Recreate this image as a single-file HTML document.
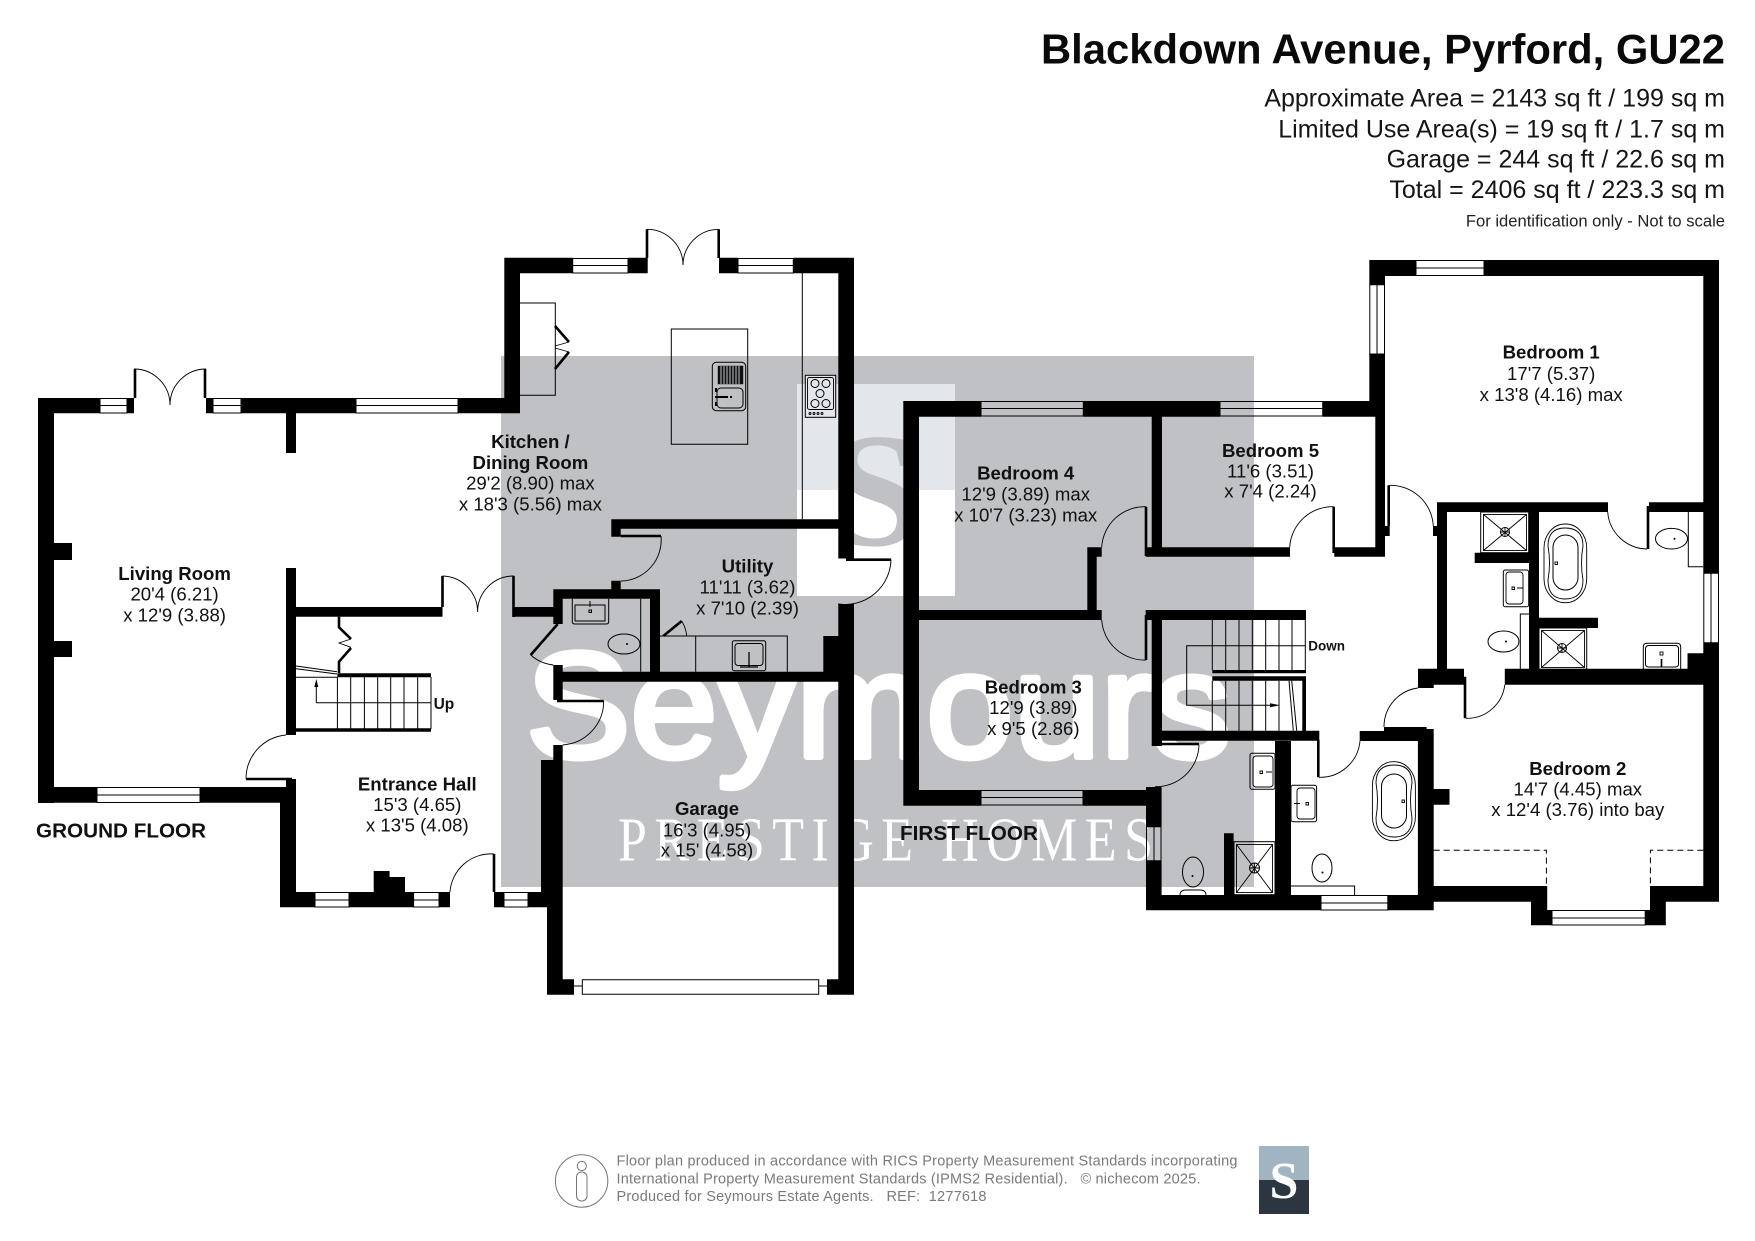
<!DOCTYPE html>
<html><head><meta charset="utf-8"><title>Blackdown Avenue, Pyrford floor plan</title>
<style>
html,body{margin:0;padding:0;background:#fff}
svg{display:block}
text{font-family:"Liberation Sans",sans-serif;fill:#111}
.t{font-size:18.6px;text-anchor:middle}
.b{font-weight:bold}
.s{font-size:25px;text-anchor:end;fill:#151515}
.f{font-size:14.5px;fill:#7a7a7a;white-space:pre}
.l{fill:none;stroke:#000;stroke-width:1}
.a{fill:none;stroke:#000;stroke-width:.9}
.k{fill:none;stroke:#000;stroke-width:2.6}
</style></head><body>
<svg xmlns="http://www.w3.org/2000/svg" width="1755" height="1241" viewBox="0 0 1755 1241">
<rect width="1755" height="1241" fill="#fff"/>
<!-- watermark -->
<rect x="501" y="356" width="753" height="531" fill="#bfc1c4"/>
<rect x="797" y="384" width="158" height="106" fill="#e3e7eb"/>
<rect x="797" y="490" width="158" height="106" fill="#fff"/>
<text x="876" y="545" text-anchor="middle" font-size="163" font-weight="bold" style="font-family:'Liberation Serif',serif;fill:#bfc1c4">S</text>
<text x="526" y="757" font-size="150" textLength="705" lengthAdjust="spacingAndGlyphs" style="fill:#fff;stroke:#fff;stroke-width:6;stroke-linejoin:round">Seymours</text>
<text transform="translate(618 860.7) scale(1 1.2)" x="0" y="0" font-size="52" textLength="535" style="font-family:'Liberation Serif',serif;fill:#fff">PRESTIGE HOMES</text>

<!-- walls -->
<path fill="#000" d="
M38 398H100V413.3H38zM127 398H134V413.3H127zM206 398H213V413.3H206zM241 398H356V413.3H241zM458 398H520V413.3H458z
M38 398H54V803H38zM38 787H97V802.7H38zM200 787H296V802.7H200z
M54 543H72V560H54zM54 641H72V657H54z
M286 413H296V453H286zM286 568H296V735H286zM286 779H296V803H286zM280 787H296V907.3H280z
M296 607H442.5V616.7H296zM514 607H553.3V616.7H514z
M280 892H315V907.3H280zM349 892H413.6V907.3H349zM439 892H450V907.3H439zM494 892H504V907.3H494zM528 892H547.5V907.3H528z
M373.7 871H389.6V892H373.7zM389.6 877H405V892H389.6z
M504.3 257.7H520V413.3H504.3zM504.3 257.7H572.7V273.3H504.3zM628 257.7H647.7V273.3H628zM719 257.7H738V273.3H719zM793.3 257.7H854V273.3H793.3z
M838.3 257.7H854V558.5H838.3zM838.3 604H854V994.7H838.3z
M611.3 519.3H838.3V528.7H611.3zM611.3 528.7H620.7V536.7H611.3zM611.3 580.7H620.7V589.3H611.3z
M553.3 589.3H660V598.7H553.3zM553.3 589.3H562.7V624H553.3zM650 598.7H660V671.7H650z
M553.3 671.7H838.3V681.7H553.3zM553.3 665H562.7V700H553.3zM553.3 745H562.7V760H553.3zM541 760H562.7V892H541zM547 892H562.7V994.7H547z
M823.3 636H838.3V672H823.3zM547 979.3H574V994.7H547zM827 979.3H854V994.7H827z
M296 728.3H431V731.7H296zM337.4 673.3H431V677.3H337.4z

M903.3 401H981V416.7H903.3zM1083.3 401H1220V416.7H1083.3zM1322.7 401H1385V416.7H1322.7z
M903.3 401H919V805H903.3zM919 610H1101.7V620H919z
M1087.3 547.3H1101.7V556.7H1087.3zM1087.3 547.3H1096.7V610H1087.3z
M1151.7 416.7H1162V556.7H1151.7zM1145.7 547.3H1290V556.7H1145.7zM1334.3 547.3H1385V556.7H1334.3zM1375.3 416H1385V556.7H1375.3z
M1369.3 260H1385V284.7H1369.3zM1369.3 354H1385V416H1369.3zM1369.3 260H1416V276H1369.3zM1484 260H1719V276H1484z
M1703.3 260H1719V573.3H1703.3zM1703.3 642.7H1719V901.7H1703.3z
M1145.7 610H1306V620H1145.7zM1151.7 610H1162V746H1151.7z
M1302.3 680H1306V731H1302.3zM1212.3 670H1306V673.3H1212.3zM1212.3 676.3H1306V680.7H1212.3z
M1162 730.7H1319.3V740.7H1162zM1359.7 731H1418V741H1359.7zM1384 727H1426.6V731H1384z
M1417.9 729H1433.7V910.3H1417.9zM1275 741H1291V895H1275z
M1146 787H1161.6V826.7H1146zM1146 860.7H1161.6V910.3H1146z
M903.3 790H981V805.7H903.3zM1083 790H1161.6V805.7H1083z
M1146 895H1321V910.3H1146zM1387.8 895H1433.7V910.3H1387.8z
M1224 833.3H1233.6V895H1224zM1433.7 789H1449.5V804.7H1433.7z
M1433.7 886H1547.2V901.7H1433.7zM1650 886H1719V901.7H1650z
M1531 886H1547.2V925.3H1531zM1650 886H1665.8V925.3H1650zM1531 910H1552V925.3H1531zM1645.2 910H1665.8V925.3H1645.2z
M1504.8 668.7H1703.3V684.7H1504.8zM1418 668.7H1464V684.7H1418zM1418 684.7H1433.7V688H1418zM1687.5 653.3H1703.3V669H1687.5z
M1437 502.3H1447V669H1437zM1437 502.3H1608V512H1437zM1649 502.3H1703.3V512H1649z
M1433 526H1447V536H1433zM1385 526H1389.7V536H1385z
M1529 512H1539V669H1529zM1474.7 552.7H1529V563H1474.7zM1539 617.7H1598V628H1539z"/>

<!-- windows -->
<path class="l" d="
M100 398.5H127V413H100zM100 405.5H127
M213 398.5H241V413H213zM213 405.5H241
M356 398.5H458V413H356zM356 405.5H458
M97 787.5H200V802.5H97zM97 795H200
M315 892.5H349V907H315zM315 900H349
M413.6 892.5H439V907H413.6zM413.6 900H439
M504 892.5H528V907H504zM504 900H528
M572.7 258.5H628V273H572.7zM572.7 265.5H628
M738 258.5H793.3V273H738zM738 265.5H793.3
M582.3 979.8H818.7V994.2H582.3zM574 986H582.3M818.7 986H827
M981 401.5H1083.3V416H981zM981 408.5H1083.3
M1220 401.5H1322.7V416H1220zM1220 408.5H1322.7
M981 790.5H1083V805H981zM981 797.5H1083
M1416 260.5H1484V275.5H1416zM1416 268H1484
M1369.8 284.7H1384.5V354H1369.8zM1377 284.7V354
M1703.8 573.3H1718.5V642.7H1703.8zM1711 573.3V642.7
M1146.5 826.7H1161V860.7H1146.5zM1154 826.7V860.7
M1321 895.5H1387.8V910H1321zM1321 903H1387.8
M1552 910.5H1645.2V925H1552zM1552 918H1645.2"/>

<!-- doors -->
<path class="k" d="M135 369V398M205 369V398M442.5 576V607M513.5 576V617M647 229.3V258M718.7 229.3V258
M246 779H292M494 854V892M620.7 536H661M846 559.7H891M557.7 624L530.7 655M557 701H603.7
M1146 506.7V556M1146 615V660M1333.7 506.7V553M1155.7 744H1199M1318.3 740V777.3M1465 676.7V718.3M1388.7 485.3V526M1648 506V549
M663.3 636L681.7 621"/>
<path class="a" d="M134 369A36 36 0 0 1 170 405M206 369A36 36 0 0 0 170 405
M442.5 576A36 36 0 0 1 477.6 612M514 576A36 36 0 0 0 477.6 612
M647 229.3A36 36 0 0 1 683 265M718.7 229.3A36 36 0 0 0 683 265
M246 778.7A44 44 0 0 1 286 735M494 854A41 41 0 0 0 450 892
M661 536A41 41 0 0 1 621 581M891 559.5A46 46 0 0 1 838 604
M530.7 655A41 41 0 0 0 553.3 665M603.7 701A44 44 0 0 1 562.7 745
M1146 506.7A43 43 0 0 0 1101.7 547.3M1101.7 620A43 43 0 0 0 1146 660
M1333.7 506.7A43 43 0 0 0 1289.7 547.3M1199 745A43 43 0 0 1 1155 786.7
M1319 777.3A40 40 0 0 0 1360 741M1418 688A39 39 0 0 0 1384 727
M1466 718.3A38 38 0 0 0 1504.8 684.7M1389.3 485.3A43 43 0 0 1 1433.3 526
M1607.7 512A40 40 0 0 0 1647 549M681.7 621Q686 628 686.7 636"/>

<!-- kitchen fittings -->
<path class="l" d="M520 303H555.3V395.3H520M671.3 329H747.7V444.3H671.3zM802.3 273V519.3M660 636H787.3V671.7M695.7 636V671.7"/>
<path class="k" d="M555 326L569 342M555 369L569 352"/>
<path class="a" d="M555 346Q562 344 569 342M555 348Q562 350 569 352"/>
<rect x="712.3" y="362.3" width="33.4" height="48.4" rx="4" class="l"/>
<rect x="718" y="366" width="25" height="18" fill="#111" stroke="#000" stroke-width=".4"/>
<path stroke="#bfc1c4" stroke-width="1" d="M721 366V384M724 366V384M727 366V384M730 366V384M733 366V384M736 366V384M739 366V384"/>
<rect x="717" y="388" width="26" height="20" rx="4" class="l"/>
<path stroke="#000" stroke-width="2" d="M715 397H728M730 397H732M716 388V392M716 402V406"/>
<rect x="805.3" y="375.3" width="30.4" height="42" fill="#e3e7eb" stroke="#000" stroke-width="1"/>
<rect x="807.5" y="377.5" width="26" height="32" rx="2" class="a"/>
<circle cx="815" cy="383.5" r="4" class="l"/><circle cx="826" cy="383.5" r="4" class="l"/><circle cx="820" cy="393.5" r="4" class="l"/><circle cx="815" cy="403.5" r="4" class="l"/><circle cx="826" cy="403.5" r="4" class="l"/>
<path class="a" d="M809 413.5a1 1 0 1 0 2 0a1 1 0 1 0 -2 0M813 413.5a1 1 0 1 0 2 0a1 1 0 1 0 -2 0M817 413.5a1 1 0 1 0 2 0a1 1 0 1 0 -2 0M821 413.5a1 1 0 1 0 2 0a1 1 0 1 0 -2 0"/>

<!-- ground WC -->
<path class="l" d="M572.3 598.7V622Q572.3 624 575 624H606Q608.7 624 608.7 622V598.7M575 605H605V621H575zM640.7 598.7V671.7"/>
<rect x="589" y="610" width="2.5" height="2.5" class="l"/><path class="l" d="M590 601V607"/>
<ellipse cx="624" cy="644" rx="16" ry="10" class="l"/><circle cx="627" cy="644" r="1" fill="#000"/>
<!-- utility sink -->
<rect x="732.3" y="640.7" width="33.4" height="30" rx="2" class="l"/><rect x="735" y="643.5" width="28" height="22" rx="3" class="l"/>
<path stroke="#000" stroke-width="1.3" d="M749 652V667M740 667H758"/>

<!-- stairs ground -->
<path class="l" d="M337.4 677V729M350.7 677V729M364.4 677V729M377.7 677V729M390.7 677V729M404 677V729M417.7 677V729M431 677V729M296 677.3H337.4M316.3 702.7H431M316.3 702.7V685M296 666L337 671.7M296 668.7L337 674"/>
<path fill="#000" d="M316.3 679L314.3 687H318.3z"/>
<path class="k" d="M339 616.7V627.3L351 639M351 648L339 661.7V673"/>
<path class="a" d="M351 639L339 643L351 647.3"/>
<text x="433.6" y="709" font-size="15.5" class="b">Up</text>

<!-- stairs first -->
<path class="l" d="M1212.3 620V670M1225.7 620V670M1239 620V670M1252.3 620V670M1265.7 620V670M1279 620V670M1292 620V670M1305.3 620V670
M1212.3 680.7V730.7M1225.7 680.7V730.7M1239 680.7V730.7M1252.3 680.7V730.7M1265.7 680.7V730.7M1279 680.7V730.7
M1305.7 645.7H1186.7V705.3H1272M1289 680.7L1293.3 730.7M1291.7 680.7L1296.7 730.7"/>
<path fill="#000" d="M1280 705.3L1270 703.3V707.3z"/>
<text x="1308.3" y="650.7" font-size="13.5" class="b">Down</text>

<!-- bathrooms: lower left -->
<rect x="1250" y="753.3" width="25" height="36" rx="2" class="l"/><rect x="1253" y="756" width="20" height="31" rx="3" class="a"/>
<path class="a" d="M1260 771h2.5v2.5h-2.5zM1266 772h6"/>
<rect x="1234" y="841.7" width="41" height="53" class="l"/><rect x="1236.5" y="844.5" width="36" height="48" class="a"/>
<path class="a" d="M1236.5 844.5L1272.5 892.5M1272.5 844.5L1236.5 892.5"/><circle cx="1254.5" cy="868" r="5" class="l"/><path class="a" d="M1249.5 868h10M1254.5 863v10"/>
<ellipse cx="1193" cy="872" rx="10.5" ry="15" class="l"/><path class="a" d="M1180 895Q1180 890 1186 890H1200Q1206 890 1206 895"/><circle cx="1192.5" cy="876" r="1" fill="#000"/>
<!-- bath 2 -->
<rect x="1291" y="785.3" width="25.6" height="36.4" rx="2" class="l"/><rect x="1297" y="788" width="18" height="31" rx="3" class="a"/>
<path class="a" d="M1306 802.5h2.5v2.5h-2.5zM1294 803.5h6"/>
<rect x="1372.4" y="761.7" width="43" height="79" rx="21" ry="24" class="a"/>
<path class="a" d="M1376 783Q1376 765 1394 765Q1412 765 1412 783Q1409 800 1412 818Q1412 837 1394 837Q1376 837 1376 818Q1379 800 1376 783z"/>
<rect x="1381.5" y="774" width="25" height="54" rx="12.5" class="l"/><rect x="1402" y="800" width="2.5" height="2.5" class="a"/>
<ellipse cx="1322" cy="868" rx="10" ry="14" class="l"/><circle cx="1322.5" cy="872.5" r="1" fill="#000"/>
<path class="l" d="M1291 886H1354.6V895"/>
<!-- dashed bay -->
<path fill="none" stroke="#000" stroke-width="1" stroke-dasharray="6 4" d="M1433.7 850.3H1546.4V886M1703.3 850.3H1650.4V886"/>

<!-- en-suite 1 -->
<rect x="1480.7" y="512" width="48" height="40.7" class="l"/><rect x="1483.5" y="514.5" width="43" height="36" class="a"/>
<path class="a" d="M1483.5 514.5L1526.5 550.5M1526.5 514.5L1483.5 550.5"/><circle cx="1505" cy="532" r="4.5" class="l"/><path class="a" d="M1500.5 532h9M1505 527.5v9"/>
<rect x="1503.3" y="570" width="25.4" height="36.7" rx="2" class="l"/><rect x="1506" y="572" width="17" height="32" rx="3" class="a"/>
<path class="a" d="M1512 587h2.5v2.5H1512zM1517 588h6"/>
<ellipse cx="1503.5" cy="641.5" rx="15.5" ry="10.5" class="l"/><circle cx="1506" cy="641.5" r="1" fill="#000"/>
<path class="l" d="M1529 614H1520.3V669"/>
<rect x="1544" y="524" width="42.7" height="78.7" rx="21" ry="24" class="a"/>
<path class="a" d="M1548 546Q1548 528 1565 528Q1583 528 1583 546Q1580 563 1583 580Q1583 599 1565 599Q1548 599 1548 580Q1551 563 1548 546z"/>
<rect x="1553" y="535" width="25" height="55" rx="12.5" class="l"/><rect x="1555" y="562" width="2.5" height="2.5" class="a"/>
<rect x="1539" y="628" width="47.7" height="41.3" class="l"/><rect x="1541.5" y="630.5" width="43" height="37" class="a"/>
<path class="a" d="M1541.5 630.5L1584.5 667.5M1584.5 630.5L1541.5 667.5"/><circle cx="1562" cy="648" r="4.5" class="l"/><path class="a" d="M1557.5 648h9M1562 643.5v9"/>
<path class="l" d="M1643.3 669.3V647Q1643.3 643.3 1647 643.3H1677Q1680.7 643.3 1680.7 647V669.3M1645.5 664V649Q1645.5 645.5 1649 645.5H1675Q1678.5 645.5 1678.5 649V664Q1678.5 667 1675 667H1649Q1645.5 667 1645.5 664z"/>
<rect x="1660" y="652" width="3" height="3" class="a"/><path stroke="#000" stroke-width="1.6" d="M1661.5 659V667"/>
<ellipse cx="1671.5" cy="538.7" rx="16" ry="10.3" class="l"/><circle cx="1674.5" cy="538.7" r="1" fill="#000"/>
<path class="l" d="M1688.3 512V566.7H1703.3"/>

<!-- labels -->
<text class="t b" x="174.6" y="580">Living Room</text><text class="t" x="174.6" y="600.7">20'4 (6.21)</text><text class="t" x="174.6" y="621.7">x 12'9 (3.88)</text>
<text class="t b" x="530.4" y="448">Kitchen /</text><text class="t b" x="530.4" y="469">Dining Room</text><text class="t" x="530.4" y="489.3">29'2 (8.90) max</text><text class="t" x="530.4" y="510.3">x 18'3 (5.56) max</text>
<text class="t b" x="417.3" y="790.3">Entrance Hall</text><text class="t" x="417.3" y="811">15'3 (4.65)</text><text class="t" x="417.3" y="831.3">x 13'5 (4.08)</text>
<text class="t b" x="707" y="815">Garage</text><text class="t" x="707" y="836.3">16'3 (4.95)</text><text class="t" x="707" y="856.7">x 15' (4.58)</text>
<text class="t b" x="747.5" y="572.7">Utility</text><text class="t" x="747.5" y="593.3">11'11 (3.62)</text><text class="t" x="747.5" y="614.3">x 7'10 (2.39)</text>
<text class="b" x="36" y="837.3" font-size="20.7">GROUND FLOOR</text>
<text class="b" x="900" y="840" font-size="20.7">FIRST FLOOR</text>
<text class="t b" x="1025.7" y="479.3">Bedroom 4</text><text class="t" x="1025.7" y="500.7">12'9 (3.89) max</text><text class="t" x="1025.7" y="521.7">x 10'7 (3.23) max</text>
<text class="t b" x="1270.5" y="457">Bedroom 5</text><text class="t" x="1270.5" y="477.3">11'6 (3.51)</text><text class="t" x="1270.5" y="497.7">x 7'4 (2.24)</text>
<text class="t b" x="1033.3" y="693.3">Bedroom 3</text><text class="t" x="1033.3" y="714">12'9 (3.89)</text><text class="t" x="1033.3" y="735">x 9'5 (2.86)</text>
<text class="t b" x="1577.8" y="775">Bedroom 2</text><text class="t" x="1577.8" y="795.3">14'7 (4.45) max</text><text class="t" x="1577.8" y="816">x 12'4 (3.76) into bay</text>
<text class="t b" x="1551.2" y="358.7">Bedroom 1</text><text class="t" x="1551.2" y="380">17'7 (5.37)</text><text class="t" x="1551.2" y="401">x 13'8 (4.16) max</text>

<!-- header -->
<text x="1041" y="63.5" font-size="42" textLength="684" lengthAdjust="spacingAndGlyphs" class="b" style="fill:#0a0a0a">Blackdown Avenue, Pyrford, GU22</text>
<text class="s" x="1725" y="106.7">Approximate Area = 2143 sq ft / 199 sq m</text>
<text class="s" x="1725" y="137.7">Limited Use Area(s) = 19 sq ft / 1.7 sq m</text>
<text class="s" x="1725" y="167.7">Garage = 244 sq ft / 22.6 sq m</text>
<text class="s" x="1725" y="198">Total = 2406 sq ft / 223.3 sq m</text>
<text x="1725" y="226.7" text-anchor="end" font-size="16.6" style="fill:#222">For identification only - Not to scale</text>

<!-- footer -->
<ellipse cx="581.6" cy="1181" rx="26.2" ry="26.2" fill="none" stroke="#777" stroke-width="1"/>
<circle cx="581.8" cy="1166" r="4.6" fill="none" stroke="#777" stroke-width="1"/>
<rect x="576.5" y="1172" width="10.5" height="29" rx="5" fill="none" stroke="#777" stroke-width="1"/>
<text class="f" x="616.5" y="1165.3" textLength="621">Floor plan produced in accordance with RICS Property Measurement Standards incorporating</text>
<text class="f" x="616.5" y="1183.3" textLength="584">International Property Measurement Standards (IPMS2 Residential).   © nichecom 2025.</text>
<text class="f" x="616.5" y="1201" textLength="370">Produced for Seymours Estate Agents.   REF:  1277618</text>
<rect x="1259" y="1146" width="50" height="34" fill="#a0b4c2"/>
<rect x="1259" y="1180" width="50" height="34" fill="#2b3640"/>
<text x="1284" y="1198" text-anchor="middle" font-size="52" font-weight="bold" style="font-family:'Liberation Serif',serif;fill:#fff">S</text>
</svg>
</body></html>
